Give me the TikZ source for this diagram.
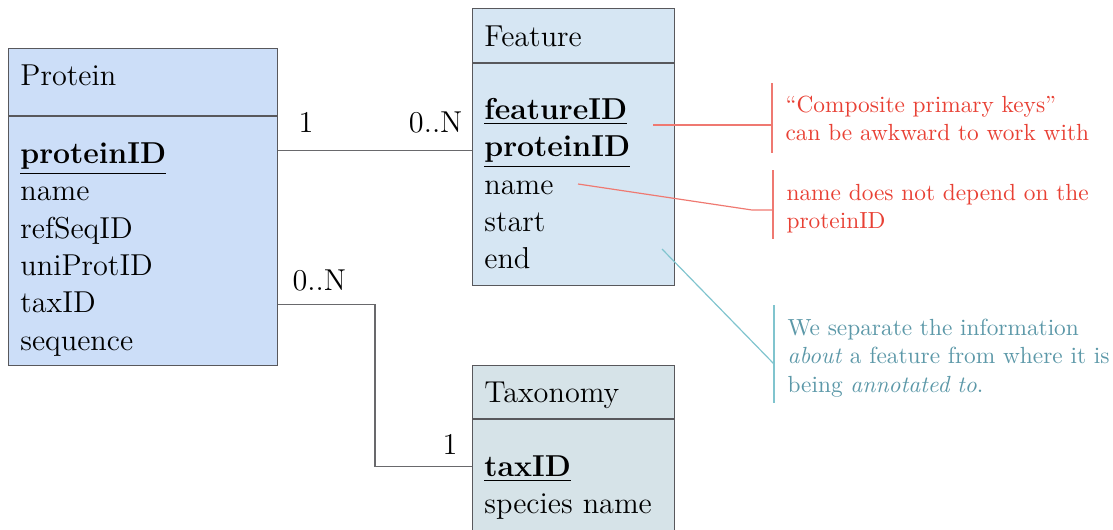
\documentclass[tikz,border=0pt]{standalone}
\usepackage{amsmath}
\usetikzlibrary{
  positioning,
  calc
}
\definecolor{ProteinBlue}{RGB}{204,222,248}
\definecolor{FeatureBlue}{RGB}{214,230,243}
\definecolor{TaxonGray}{RGB}{214,227,232}
\definecolor{BoxBorder}{RGB}{88,88,92}
\definecolor{NoteRed}{RGB}{232,64,52}
\definecolor{NoteTeal}{RGB}{92,152,168}
\definecolor{TealLine}{RGB}{128,196,206}
\newcommand{\entityfont}{\fontsize{12.7}{15.7}\selectfont}
\newcommand{\notefont}{\fontsize{9.8}{11.9}\selectfont}
\newcommand{\pkey}[1]{\underline{\textbf{#1}}}
\tikzset{
  entityhead/.style={draw=BoxBorder,fill=#1,anchor=north west,inner xsep=5pt,inner ysep=0pt,align=left,font=\entityfont},
  entitybody/.style={draw=BoxBorder,fill=#1,inner xsep=5pt,inner ysep=0pt,align=left,font=\entityfont},
  relline/.style={draw=BoxBorder!90,line width=0.45pt},
  card/.style={font=\entityfont,inner sep=0pt},
  note/.style={anchor=north west,text width=150pt,align=left,inner xsep=5.5pt,inner ysep=0pt,font=\notefont,text=#1},
  redline/.style={draw=NoteRed!70,line width=0.5pt},
  tealline/.style={draw=TealLine,line width=0.5pt}
}

\begin{document}
\begin{tikzpicture}[x=0.42pt,y=-0.42pt]
\useasboundingbox (0,0) rectangle (1113,529);
\clip (0,0) rectangle (1113,529);

\node[entityhead=ProteinBlue, text width=103pt, text height=15.5pt, text depth=12.6pt] (phead) at (8,48) {Protein};
\node[entitybody=ProteinBlue, below=0pt of phead, text width=103pt, text height=19.7pt, text depth=84.8pt] (pbody)
  {\pkey{proteinID}\\name\\refSeqID\\uniProtID\\taxID\\sequence};

\node[entityhead=FeatureBlue, text width=74.8pt, text height=16pt, text depth=6.7pt] (fhead) at (472,8) {Feature};
\node[entitybody=FeatureBlue, below=0pt of fhead, text width=74.8pt, text height=23.5pt, text depth=69.7pt] (fbody)
  {\pkey{featureID}\\\pkey{proteinID}\\name\\start\\end};

\node[entityhead=TaxonGray, text width=74.8pt, text height=15.5pt, text depth=6.7pt] (thead) at (472,365) {Taxonomy};
\node[entitybody=TaxonGray, below=0pt of thead, text width=74.8pt, text height=23.9pt, text depth=50pt] (tbody)
  {\pkey{taxID}\\species name};

% relations
\coordinate (pa) at ($(pbody.north east)+(0,35)$);
\draw[relline] (pa) node[card, anchor=base west, shift={(8.4pt,7.6pt)}] {1}
  -- (pa -| fbody.west) node[card, anchor=base east, shift={(-3.8pt,7.6pt)}] {0..N};

\coordinate (pb) at ($(pbody.north east)+(0,189)$);
\coordinate (tb) at ($(tbody.north west)+(0,48)$);
\draw[relline] (pb) node[card, anchor=base west, shift={(5.9pt,5.9pt)}] {0..N}
  -- ($(pb)+(97,0)$) |- (tb) node[card, anchor=base east, shift={(-5.9pt,5pt)}] {1};

% notes
\node[note=NoteRed, text height=12.2pt, text depth=16.8pt] (keynote) at (772,83) {``Composite primary keys''\\can be awkward to work with};
\node[note=NoteRed, text height=12.6pt, text depth=16pt] (namenote) at (773,170) {name does not depend on the\\proteinID};
\node[note=NoteTeal, text height=12.6pt, text depth=28.1pt] (splitnote) at (774,305) {We separate the information\\\emph{about} a feature from where it is\\being \emph{annotated to}.};

\draw[redline] (keynote.north west) -- (keynote.south west);
\draw[redline] (namenote.north west) -- (namenote.south west);
\draw[tealline] (splitnote.north west) -- (splitnote.south west);

\coordinate (keyref) at (653,125);
\coordinate (nameref) at (578,184);
\coordinate (namebend) at (752,210);
\coordinate (endref) at (662,249);
\draw[redline] (keyref) -- (keyref -| keynote.west);
\draw[redline] (nameref) -- (namebend) -- (namebend -| namenote.west);
\draw[tealline] (endref) -- ($(splitnote.north west)+(0,59)$);
\end{tikzpicture}
\end{document}
